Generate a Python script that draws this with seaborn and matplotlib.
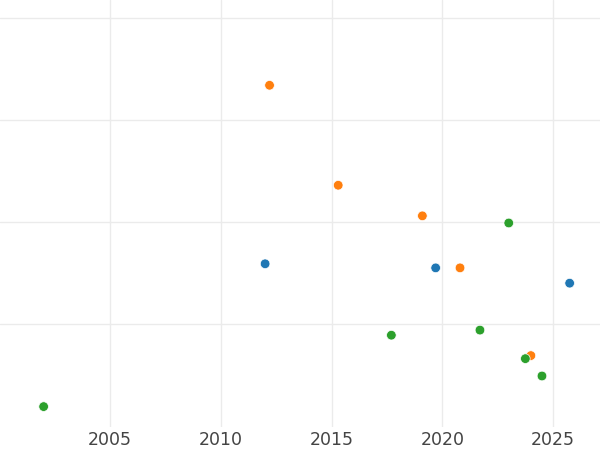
import numpy as np
import pandas as pd
import seaborn as sns
import matplotlib
matplotlib.use("Agg")
import matplotlib.pyplot as plt

# values
orange_year = [2012.2, 2015.3, 2019.1, 2020.8, 2024.0]
orange_val = [3.34, 2.36, 2.06, 1.55, 0.69]
blue_year = [2012.0, 2019.7, 2025.75]
blue_val = [1.59, 1.55, 1.40]
green_year = [2002.0, 2017.7, 2021.7, 2023.0, 2023.75, 2024.5]
green_val = [0.19, 0.89, 0.94, 1.99, 0.66, 0.49]
groups = ["A", "B", "C"]
colors = ["#1f77b4", "#ff7f0e", "#2ca02c"]

df = pd.concat([
    pd.DataFrame({"year": blue_year, "value": blue_val, "group": "A"}),
    pd.DataFrame({"year": orange_year, "value": orange_val, "group": "B"}),
    pd.DataFrame({"year": green_year, "value": green_val, "group": "C"}),
])

sns.set_theme(style="whitegrid", rc={"grid.color": "#ebebeb", "grid.linewidth": 1.0})

fig = plt.figure(figsize=(6, 4.5), dpi=100)
ax = fig.add_axes([0, 23 / 450, 1, 427 / 450])

sns.scatterplot(data=df, x="year", y="value", hue="group", hue_order=groups,
                palette=colors, s=48, edgecolor="white", linewidth=0.5,
                legend=False, ax=ax, zorder=3)

ax.set_xlim(2000.03, 2027.12)
ax.set_ylim(-0.01, 4.176)
ax.set_xticks([2005, 2010, 2015, 2020, 2025])
ax.set_yticks([1, 2, 3, 4])
ax.set_yticklabels([])
ax.tick_params(axis="x", labelsize=12.5, colors="#444444", length=0, pad=3)
ax.tick_params(axis="y", length=0)
ax.set_xlabel("")
ax.set_ylabel("")
for sp in ax.spines.values():
    sp.set_visible(False)

fig.savefig("out.png", dpi=100)
